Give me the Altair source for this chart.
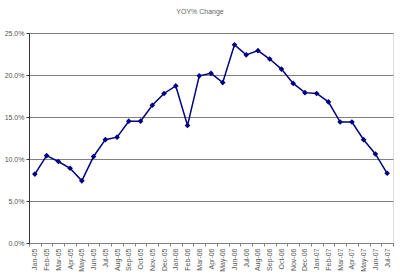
import altair as alt
import pandas as pd

months = ["Jan-05","Feb-05","Mar-05","Apr-05","May-05","Jun-05","Jul-05","Aug-05","Sep-05","Oct-05","Nov-05","Dec-05",
          "Jan-06","Feb-06","Mar-06","Apr-06","May-06","Jun-06","Jul-06","Aug-06","Sep-06","Oct-06","Nov-06","Dec-06",
          "Jan-07","Feb-07","Mar-07","Apr-07","May-07","Jun-07","Jul-07"]
yoy = [8.2, 10.4, 9.7, 8.9, 7.4, 10.3, 12.3, 12.6, 14.5, 14.5, 16.4, 17.8,
       18.7, 14.0, 19.9, 20.2, 19.1, 23.6, 22.4, 22.9, 21.9, 20.7, 19.0, 17.9,
       17.8, 16.8, 14.4, 14.4, 12.3, 10.6, 8.3]
y_ticks = [0, 0.05, 0.10, 0.15, 0.20, 0.25]

df = pd.DataFrame({"month": months, "yoy": [v / 100 for v in yoy]})

x = alt.X("month:N", sort=months, title=None,
          scale=alt.Scale(type="band", paddingInner=0, paddingOuter=0),
          axis=alt.Axis(labelAngle=-90, labelFontSize=7, labelColor="#555555", labelFont="Arial",
                        domainColor="#808080", tickColor="#808080", tickBand="extent", tickSize=3,
                        labelPadding=2, grid=False))
y = alt.Y("yoy:Q", title=None,
          scale=alt.Scale(domain=[0, 0.25], nice=False, zero=True),
          axis=alt.Axis(values=y_ticks, format=".1%", labelFontSize=7, labelColor="#555555", labelFont="Arial",
                        domainColor="#333333", tickColor="#333333", tickSize=3, labelPadding=2,
                        grid=True, gridColor="#808080", gridWidth=1))

line = alt.Chart(df).mark_line(color="#000080", strokeWidth=1.5).encode(x=x, y=y)
pts = alt.Chart(df).mark_point(shape="diamond", filled=True, color="#000080", size=32, opacity=1).encode(x=x, y=y)

chart = (line + pts).properties(
    width=364, height=210,
    title=alt.TitleParams("YOY% Change", fontSize=7, color="#666666", font="Arial", fontWeight="normal",
                          anchor="middle", offset=14, dx=-11),
    autosize=alt.AutoSizeParams(type="none"),
    padding={"left": 29, "top": 33, "right": 7, "bottom": 31},
).configure_view(fill="#C0C0C0", stroke="#808080", strokeWidth=1).configure(background="white")

chart.save("out.html", embed_options={"renderer": "svg", "actions": False})
